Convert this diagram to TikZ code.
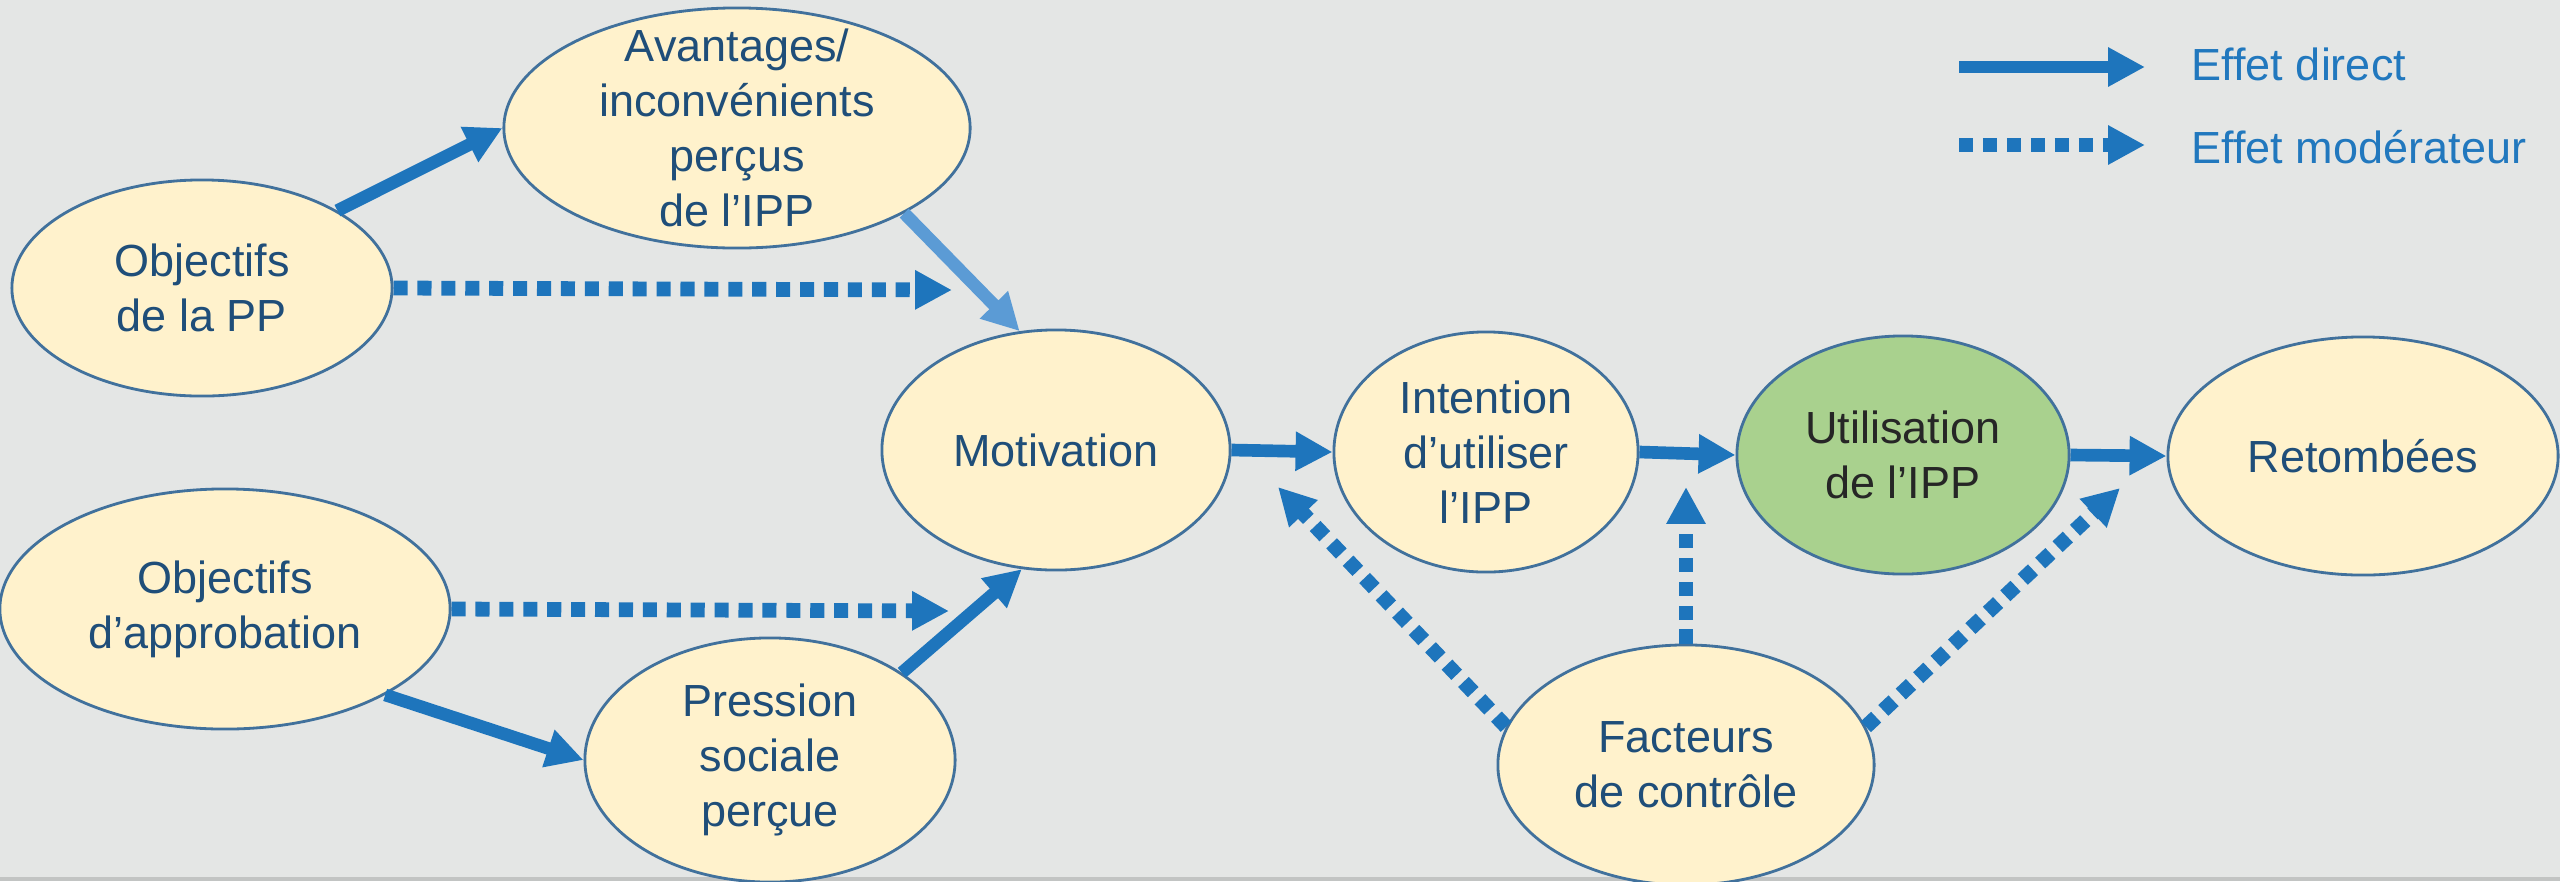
\documentclass[tikz,border=0pt]{standalone}
\usepackage{fontspec}
\setmainfont{Liberation Sans}
\usetikzlibrary{shapes.geometric,arrows.meta}
\definecolor{bggray}{HTML}{E4E6E5}
\definecolor{edgegray}{HTML}{C2C4C3}
\definecolor{cream}{HTML}{FFF2CC}
\definecolor{rim}{HTML}{41719C}
\definecolor{ink}{HTML}{1F4E79}
\definecolor{flow}{HTML}{1E75BC}
\definecolor{flowlight}{HTML}{5B9BD5}
\definecolor{leaf}{HTML}{A9D18E}
\definecolor{keyink}{HTML}{2178BE}
\tikzset{
  bubble/.style={shape=ellipse,draw=rim,line width=0.8pt,fill=cream,text=ink,align=center,inner sep=-0.5cm,font=\fontsize{12.8}{15.6}\selectfont},
  direct/.style={draw,color=flow,line width=3.6pt,-{Triangle[length=10.5pt,width=10.5pt]}},
  moder/.style={direct,line width=4.2pt,dash pattern=on 4pt off 2.8pt},
  keytext/.style={anchor=west,text=keyink,inner sep=0pt,font=\fontsize{12.8}{15.6}\selectfont},
}
\begin{document}
\begin{tikzpicture}[x=0.01cm,y=-0.01cm]
\useasboundingbox (0,0) rectangle (2560,881);
\fill[bggray] (0,0) rectangle (2560,881);
\fill[edgegray] (0,877) rectangle (2560,881);
% the model
\node[bubble,minimum width=3.8cm,minimum height=2.16cm] (OPP) at (202,288) {Objectifs\\de la PP};
\node[bubble,minimum width=4.66cm,minimum height=2.4cm] (AVI) at (737,128) {Avantages/\\inconvénients\\perçus\\de l’IPP};
\node[bubble,minimum width=4.5cm,minimum height=2.4cm] (OA) at (225,609) {Objectifs\\d’approbation};
\node[bubble,minimum width=3.7cm,minimum height=2.44cm] (PSP) at (770,760) {Pression\\sociale\\perçue};
\node[bubble,minimum width=3.48cm,minimum height=2.4cm] (MOT) at (1056,450) {Motivation};
\node[bubble,minimum width=3.04cm,minimum height=2.4cm] (INT) at (1486,452) {Intention\\d’utiliser\\l’IPP};
\node[bubble,minimum width=3.32cm,minimum height=2.38cm,fill=leaf,text=black!85] (UTI) at (1903,455) {Utilisation\\de l’IPP};
\node[bubble,minimum width=3.9cm,minimum height=2.38cm] (RET) at (2363,456) {Retombées};
\node[bubble,minimum width=3.76cm,minimum height=2.4cm] (FAC) at (1686,765) {Facteurs\\de contrôle};
% ends of the moderating arrows
\coordinate (tAV) at (952,290);
\coordinate (tPS) at (949,611);
\coordinate (tIN) at (1278,487);
\coordinate (tUT) at (1686,487);
\coordinate (tRE) at (2120,488);
% direct effects
\path (OPP.north east) edge[direct] (AVI.west);
\path (AVI.-27) edge[direct,color=flowlight] (MOT.107);
\path (OA.south east) edge[direct] (PSP.west);
\path (PSP.north east) edge[direct] (MOT.254);
\path (MOT.east) edge[direct] (INT.west);
\path (INT.east) edge[direct] (UTI.west);
\path (UTI.east) edge[direct] (RET.west);
% moderating effects
\path (OPP.east) edge[moder] (tAV);
\path (OA.east) edge[moder] (tPS);
\path (FAC.168) edge[moder] (tIN);
\path (FAC.north) edge[moder] (tUT);
\path (FAC.12) edge[moder] (tRE);
% legend
\coordinate (kD1) at (1959,67);
\coordinate (kD2) at (2145,67);
\coordinate (kM1) at (1959,145);
\coordinate (kM2) at (2145,145);
\node[keytext] (keyD) at (2191,64) {Effet direct};
\node[keytext] (keyM) at (2191,147) {Effet modérateur};
\path (kD1) edge[direct] (kD2);
\path (kM1) edge[moder] (kM2);
\end{tikzpicture}
\end{document}
